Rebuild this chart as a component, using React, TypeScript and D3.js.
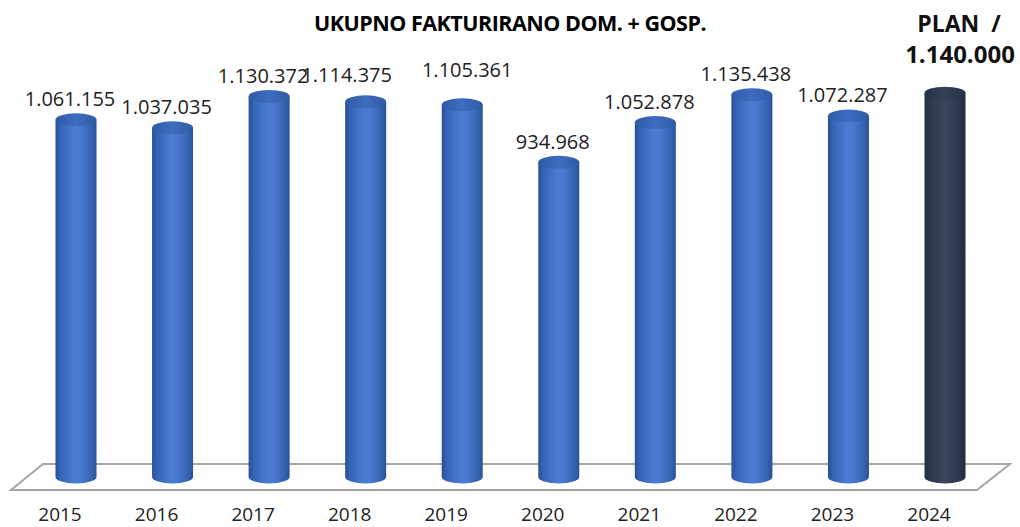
import React, { useEffect, useRef } from "react";
import * as d3 from "d3";

const years = ["2015", "2016", "2017", "2018", "2019", "2020", "2021", "2022", "2023", "2024"];
const values = [1061155, 1037035, 1130372, 1114375, 1105361, 934968, 1052878, 1135438, 1072287, 1140000];
const valueLabels = ["1.061.155", "1.037.035", "1.130.372", "1.114.375", "1.105.361", "934.968", "1.052.878", "1.135.438", "1.072.287", ""];
const planLabel = ["PLAN  /", "1.140.000"];
const title = "UKUPNO FAKTURIRANO DOM. + GOSP.";

// manual label nudges (the source chart had a couple of labels dragged by hand)
const labelNudge: Record<string, [number, number]> = { "2018": [-13, -6], "2019": [11, -14] };

export default function App() {
  const ref = useRef<SVGSVGElement | null>(null);

  useEffect(() => {
    const width = 1020, height = 527;
    const svg = d3.select(ref.current);
    svg.selectAll("*").remove();
    svg.attr("width", width).attr("height", height);

    const x = d3.scalePoint<string>().domain(years).range([76, 945]);
    const y = d3.scaleLinear().domain([0, 1200000]).range([477, 73]);
    const rx = 20.5, ry = 6.5;
    const font = "'Open Sans', 'Liberation Sans', sans-serif";

    const defs = svg.append("defs");
    const mkGrad = (id: string, stops: [number, string][]) => {
      const gr = defs.append("linearGradient").attr("id", id).attr("x1", "0").attr("x2", "1").attr("y1", "0").attr("y2", "0");
      stops.forEach(([o, c]) => gr.append("stop").attr("offset", `${o}%`).attr("stop-color", c));
    };
    mkGrad("blueBody", [[0, "#284f95"], [12, "#3563b5"], [45, "#4a7bd2"], [60, "#4a7ad0"], [88, "#3562b2"], [100, "#2a5296"]]);
    mkGrad("blueTop", [[0, "#2f5aa5"], [50, "#3e6cc0"], [100, "#2f5aa5"]]);
    mkGrad("darkBody", [[0, "#222f40"], [15, "#2c394c"], [50, "#3a475b"], [85, "#2b374a"], [100, "#212c3c"]]);
    mkGrad("darkTop", [[0, "#263244"], [50, "#334055"], [100, "#263244"]]);

    // floor
    const floor: [number, number][] = [[43, 464], [1010, 464], [977, 490], [11, 490]];
    svg.append("path")
      .attr("d", d3.line()(floor) + "Z")
      .attr("fill", "#ffffff")
      .attr("stroke", "#a6a6a6")
      .attr("stroke-width", 2);

    // title
    svg.append("text")
      .attr("x", 510).attr("y", 31)
      .attr("text-anchor", "middle")
      .attr("font-family", font).attr("font-weight", "bold").attr("font-size", 21.5)
      .attr("letter-spacing", -0.5)
      .attr("fill", "#000")
      .text(title);

    // cylinders
    const g = svg.append("g");
    years.forEach((yr, i) => {
      const cx = x(yr) as number;
      const top = y(values[i]);
      const base = y(0);
      const plan = i === years.length - 1;
      g.append("path")
        .attr("d", `M${cx - rx},${top} L${cx - rx},${base} A${rx},${ry} 0 0 0 ${cx + rx},${base} L${cx + rx},${top} Z`)
        .attr("fill", plan ? "url(#darkBody)" : "url(#blueBody)");
      g.append("ellipse")
        .attr("cx", cx).attr("cy", top).attr("rx", rx).attr("ry", ry)
        .attr("fill", plan ? "url(#darkTop)" : "url(#blueTop)");
    });

    // value labels
    years.forEach((yr, i) => {
      if (!valueLabels[i]) return;
      const [dx, dy] = labelNudge[yr] || [0, 0];
      svg.append("text")
        .attr("x", (x(yr) as number) - 6 + dx)
        .attr("y", y(values[i]) - ry - 7 + dy)
        .attr("text-anchor", "middle")
        .attr("font-family", font).attr("font-size", 20)
        .attr("fill", "#222")
        .text(valueLabels[i]);
    });

    // plan label
    const last = years[years.length - 1];
    const px = (x(last) as number) + 14;
    svg.append("text")
      .attr("x", px).attr("y", 32)
      .attr("text-anchor", "middle")
      .attr("font-family", font).attr("font-weight", "bold").attr("font-size", 23)
      .attr("fill", "#111")
      .style("white-space", "pre")
      .text(planLabel[0]);
    svg.append("text")
      .attr("x", px + 1).attr("y", 63)
      .attr("text-anchor", "middle")
      .attr("font-family", font).attr("font-weight", "bold").attr("font-size", 24)
      .attr("fill", "#111")
      .text(planLabel[1]);

    // year axis labels
    svg.append("g").selectAll("text").data(years).enter().append("text")
      .attr("x", d => (x(d) as number) - 16)
      .attr("y", 521)
      .attr("text-anchor", "middle")
      .attr("font-family", font).attr("font-size", 19)
      .attr("fill", "#222")
      .text(d => d);
  }, []);

  return (
    <div style={{ position: "absolute", left: 0, top: 0, width: 1020, height: 527, background: "#fff" }}>
      <svg ref={ref} style={{ display: "block" }} />
    </div>
  );
}
